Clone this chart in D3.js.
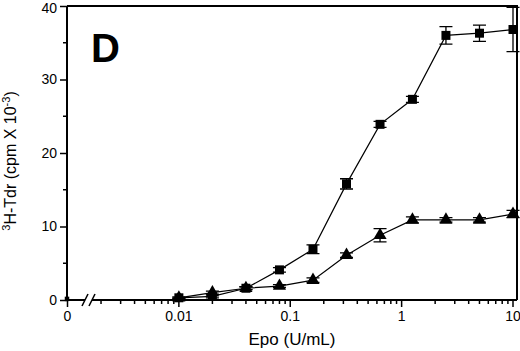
<!DOCTYPE html>
<html>
<head>
<meta charset="utf-8">
<script src="https://cdn.jsdelivr.net/npm/d3@7"></script>
<style>
  body { margin: 0; background: #fff; }
  svg { display: block; font-family: "Liberation Sans", Arial, Helvetica, sans-serif; }
</style>
</head>
<body>
<svg width="520" height="351"></svg>
<script>
// Epo doses (U/mL) and the two series
var doses = [0.01, 0.02, 0.04, 0.08, 0.16, 0.32, 0.64, 1.25, 2.5, 5, 10];
var squareVals = [0.3, 0.5, 1.6, 4.1, 6.9, 15.8, 23.9, 27.3, 36.0, 36.3, 36.8];
var squareErr  = [0.1, 0.2, 0.2, 0.3, 0.6, 0.7, 0.4, 0.4, 1.2, 1.1, 3.0];
var triVals    = [0.3, 1.0, 1.6, 1.9, 2.7, 6.1, 8.8, 10.9, 10.9, 10.9, 11.7];
var triErr     = [0.1, 0.2, 0.2, 0.2, 0.3, 0.3, 0.9, 0.4, 0.3, 0.3, 0.5];
var zeroVal = 0.15;   // Epo = 0 point, sits on the axis

var yTicks = [0, 10, 20, 30, 40];
var yMinor = [5, 15, 25, 35];
var xTicks = [0.01, 0.1, 1, 10];

var svg = d3.select("svg");
var pLeft = 67, pRight = 517, pTop = 6, pBottom = 300;

var x = d3.scaleLog().domain([0.001, 10]).range([67.5, 513]);
var y = d3.scaleLinear().domain([0, 40]).range([pBottom, pTop]);

// frame (top and right)
svg.append("path")
  .attr("d", "M" + pLeft + "," + pTop + "H" + pRight + "V" + pBottom)
  .attr("fill", "none").attr("stroke", "#000").attr("stroke-width", 2);

// y axis
var yAxis = svg.append("g").attr("transform", "translate(" + pLeft + ",0)");
yAxis.call(d3.axisLeft(y).tickValues(yTicks).tickSize(7).tickPadding(3).tickFormat(d3.format("d")));
yAxis.select(".domain").remove();
yAxis.append("line").attr("x1", 0).attr("x2", 0).attr("y1", pTop).attr("y2", pBottom)
  .attr("stroke", "#000").attr("stroke-width", 2);
yAxis.selectAll(".tick line").attr("stroke-width", 1.5);
yAxis.selectAll("text").attr("font-size", 14).attr("fill", "#000")
  .attr("dy", function(d) { return d === 40 ? "0.45em" : "0.32em"; });
yAxis.selectAll(".minor").data(yMinor).enter().append("line")
  .attr("x1", -4).attr("x2", 0)
  .attr("y1", function(d) { return y(d); }).attr("y2", function(d) { return y(d); })
  .attr("stroke", "#000").attr("stroke-width", 1.5);

// x axis with break
var minor = [];
[0.001, 0.01, 0.1, 1].forEach(function(dec) {
  for (var k = 2; k <= 9; k++) minor.push(dec * k);
});
var xa = svg.append("g");
xa.append("line").attr("x1", pLeft).attr("x2", 85).attr("y1", pBottom).attr("y2", pBottom)
  .attr("stroke", "#000").attr("stroke-width", 2);
xa.append("line").attr("x1", 92).attr("x2", pRight).attr("y1", pBottom).attr("y2", pBottom)
  .attr("stroke", "#000").attr("stroke-width", 2);
[83, 90].forEach(function(bx) {
  xa.append("line").attr("x1", bx - 1).attr("x2", bx + 5).attr("y1", pBottom + 6).attr("y2", pBottom - 6)
    .attr("stroke", "#000").attr("stroke-width", 1.5);
});
xa.selectAll(".mn").data(minor).enter().append("line")
  .attr("x1", function(d) { return x(d); }).attr("x2", function(d) { return x(d); })
  .attr("y1", pBottom).attr("y2", pBottom + 4)
  .attr("stroke", "#000").attr("stroke-width", 1.5);
var major = [0.001].concat(xTicks);
xa.selectAll(".mj").data(major).enter().append("line")
  .attr("x1", function(d) { return x(d); }).attr("x2", function(d) { return x(d); })
  .attr("y1", pBottom).attr("y2", pBottom + 7)
  .attr("stroke", "#000").attr("stroke-width", 1.5);
xa.selectAll(".lbl").data(major).enter().append("text")
  .attr("x", function(d) { return x(d); })
  .attr("y", 321)
  .attr("text-anchor", "middle").attr("font-size", 14)
  .text(function(d) { return d === 0.001 ? "0" : String(d); });

// titles
svg.append("text").attr("x", 292).attr("y", 345).attr("text-anchor", "middle")
  .attr("font-size", 17).text("Epo (U/mL)");
var yl = svg.append("text").attr("transform", "translate(16,161) rotate(-90)")
  .attr("text-anchor", "middle").attr("font-size", 16);
yl.append("tspan").attr("font-size", 11).attr("dy", -6).text("3");
yl.append("tspan").attr("dy", 6).text("H-Tdr (cpm X 10");
yl.append("tspan").attr("font-size", 11).attr("dy", -6).text("-3");
yl.append("tspan").attr("dy", 6).text(")");

svg.append("text").attr("x", 91).attr("y", 62).attr("font-size", 40)
  .attr("font-weight", "bold").text("D");

// series
function drawSeries(vals, errs, shape) {
  var pts = doses.map(function(d, i) { return {x: d, v: vals[i], e: errs[i]}; });
  var line = d3.line().x(function(d) { return x(d.x); }).y(function(d) { return y(d.v); });
  svg.append("path").datum(pts).attr("d", line)
    .attr("fill", "none").attr("stroke", "#000").attr("stroke-width", 1.2);
  var g = svg.append("g").selectAll("g").data(pts).enter().append("g");
  g.append("path").attr("d", function(d) {
    var cx = x(d.x), y1 = y(d.v + d.e), y2 = y(d.v - d.e);
    return "M" + cx + "," + y1 + "V" + y2 + "M" + (cx - 6.5) + "," + y1 + "H" + (cx + 6.5) +
      "M" + (cx - 6.5) + "," + y2 + "H" + (cx + 6.5);
  }).attr("stroke", "#000").attr("stroke-width", 1.3).attr("fill", "none");
  g.append("path")
    .attr("transform", function(d) { return "translate(" + x(d.x) + "," + y(d.v) + ")"; })
    .attr("d", d3.symbol().type(shape).size(shape === d3.symbolSquare ? 81 : 75))
    .attr("fill", "#000");
}
drawSeries(squareVals, squareErr, d3.symbolSquare);
drawSeries(triVals, triErr, d3.symbolTriangle);

// Epo = 0 point
svg.append("path").attr("transform", "translate(" + pLeft + "," + y(zeroVal) + ")")
  .attr("d", d3.symbol().type(d3.symbolSquare).size(20)).attr("fill", "#000");
</script>
</body>
</html>
